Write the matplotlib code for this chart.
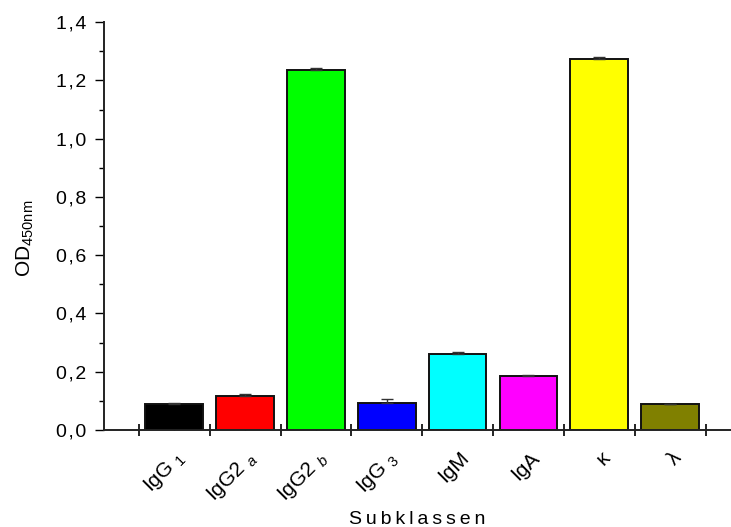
import matplotlib
matplotlib.use("Agg")
import matplotlib.pyplot as plt
import matplotlib.transforms as mtransforms
import numpy as np
from matplotlib.ticker import MultipleLocator, FuncFormatter, FixedLocator

plt.rcParams['font.family'] = ['Liberation Sans', 'DejaVu Sans']
plt.rcParams['mathtext.fontset'] = 'custom'
plt.rcParams['mathtext.rm'] = 'Liberation Sans'
plt.rcParams['mathtext.it'] = 'Liberation Sans:italic'

categories = [r'IgG $_{1}$', r'IgG2 $_{a}$', r'IgG2 $_{b}$', r'IgG $_{3}$',
              'IgM', 'IgA', 'κ', 'λ']
values = [0.091, 0.118, 1.234, 0.092, 0.262, 0.186, 1.273, 0.089]
errors = [0.002, 0.004, 0.007, 0.015, 0.006, 0.003, 0.006, 0.002]
colors = ['#000000', '#FF0000', '#00FF00', '#0000FF',
          '#00FFFF', '#FF00FF', '#FFFF00', '#808000']

fig = plt.figure(figsize=(7.31, 5.27), dpi=100)
ax = fig.add_axes([0.1416, 0.184, 0.8584, 0.774])

x = np.arange(len(categories))
ax.bar(x, values, width=0.815, color=colors, edgecolor='#111111', linewidth=1.4,
       zorder=2)
ax.errorbar(x, values, yerr=[np.zeros(len(values)), errors], fmt='none',
            ecolor='#333333', elinewidth=1.0, capsize=4, capthick=1.0, zorder=3)

ax.set_xlim(-1.0, 7.86)
ax.set_ylim(0, 1.4)

for s in ['top', 'right']:
    ax.spines[s].set_visible(False)
for s in ['left', 'bottom']:
    ax.spines[s].set_linewidth(1.4)
    ax.spines[s].set_color('#222222')

# y axis: decimal comma with slightly loose letter spacing
ax.yaxis.set_major_locator(MultipleLocator(0.2))
ax.yaxis.set_minor_locator(MultipleLocator(0.1))
ax.yaxis.set_major_formatter(
    FuncFormatter(lambda v, p: '\u200a'.join(f"{v:.1f}".replace('.', ','))))
ax.tick_params(axis='y', which='major', direction='out', length=6.5, width=1.0,
               labelsize=14, pad=6)
ax.tick_params(axis='y', which='minor', direction='out', length=3.5, width=1.0)

# x axis: boundary ticks crossing the axis, labels at bar centres
ax.xaxis.set_major_locator(FixedLocator(np.arange(-0.5, 8.0, 1.0)))
ax.xaxis.set_major_formatter(FuncFormatter(lambda v, p: ''))
ax.xaxis.set_minor_locator(FixedLocator(x))
ax.set_xticks(x, categories, minor=True)
ax.tick_params(axis='x', which='major', direction='inout', length=9, width=1.2)
ax.tick_params(axis='x', which='minor', direction='in', length=3, width=1.0,
               labelsize=15, pad=18)
shift = mtransforms.ScaledTranslation(8 / 100, 0, fig.dpi_scale_trans)
for lbl in ax.get_xticklabels(minor=True):
    lbl.set_rotation(45)
    lbl.set_rotation_mode('anchor')
    lbl.set_ha('right')
    lbl.set_va('center')
    lbl.set_transform(lbl.get_transform() + shift)

ax.set_ylabel(r'OD$_{\mathregular{450nm}}$', fontsize=15)
ax.yaxis.set_label_coords(-0.108, 0.47)
ax.set_xlabel('\u2009'.join('Subklassen'), fontsize=14)
ax.xaxis.set_label_coords(0.5, -0.198)

fig.savefig('out.png', dpi=100)
